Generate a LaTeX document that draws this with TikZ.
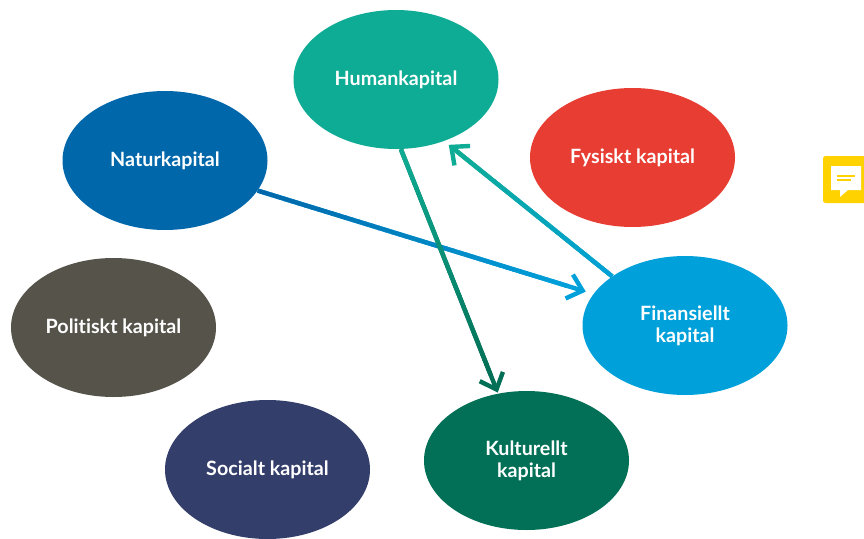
\documentclass[tikz,border=0pt]{standalone}
\usepackage{fontspec}
\setmainfont[Ligatures=CommonOff]{Lato}
\usetikzlibrary{shapes.geometric,arrows.meta,calc}
\definecolor{cHum}{RGB}{14,172,148}
\definecolor{cNat}{RGB}{0,103,170}
\definecolor{cFys}{RGB}{231,61,50}
\definecolor{cFin}{RGB}{0,160,218}
\definecolor{cPol}{RGB}{86,83,74}
\definecolor{cSoc}{RGB}{52,62,107}
\definecolor{cKul}{RGB}{2,112,86}
\definecolor{cNote}{RGB}{255,210,0}
\tikzset{
  capnode/.style={ellipse,minimum width=205pt,minimum height=139pt,inner sep=0pt,text=white,
    align=center,font=\fontsize{19.7}{22}\selectfont\bfseries},
  capfix/.style={text depth=0pt},
  link/.style={line width=4.4pt},
  linkhead/.style={link,-{Straight Barb[length=14pt,width=25pt,line width=4.4pt]}},
}
\newcommand{\gradlink}[5]{%
  \draw[linkhead,draw=#4,shorten >=#5] (#1) -- (#2);
  \foreach \i in {0,...,45}{%
    \pgfmathsetmacro{\ta}{\i/50}%
    \pgfmathsetmacro{\tb}{(\i+1.2)/50}%
    \pgfmathsetmacro{\mixv}{100-\i*2.2}%
    \draw[link,draw=#3!\mixv!#4] ($(#1)!\ta!(#2)$) -- ($(#1)!\tb!(#2)$);
  }%
}
\begin{document}
\begin{tikzpicture}[x=1pt,y=-1pt]
\useasboundingbox (0,0) rectangle (864,538);
\fill[white] (0,0) rectangle (864,538);
\node[capnode,fill=cHum] (hum) at (396,79.5) {\raisebox{-1pt}{Humankapital}};
\node[capnode,fill=cNat] (nat) at (165,160.5) {\raisebox{-1pt}{Naturkapital}};
\node[capnode,fill=cFys] (fys) at (632.5,157.5) {\raisebox{-1pt}{Fysiskt kapital}};
\node[capnode,fill=cFin] (fin) at (685,325.5) {\raisebox{-1pt}{Finansiellt}\\\raisebox{-1pt}{kapital}};
\node[capnode,fill=cPol] (pol) at (113.5,327.5) {\raisebox{-1pt}{Politiskt kapital}};
\node[capnode,fill=cSoc] (soc) at (267.5,469.5) {\raisebox{-1pt}{Socialt kapital}};
\node[capnode,fill=cKul] (kul) at (526.5,460.5) {\raisebox{-1pt}{Kulturellt}\\\raisebox{-1pt}{kapital}};
\gradlink{nat.-18.4}{fin.161.6}{cNat}{cFin}{8pt}
\gradlink{fin.146.1}{hum.-52.6}{cFin}{cHum}{6pt}
\gradlink{hum.-86.7}{kul.113.8}{cHum}{cKul}{1pt}
% note icon
\fill[cNote,rounded corners=2.5pt] (823,156) rectangle (870,203);
\fill[white] (831,166) -- (861,166) -- (861,190) -- (848,190) -- (840,197) -- (840,190) -- (831,190) -- cycle;
\fill[cNote] (837,174.5) rectangle (855,176.5);
\fill[cNote] (837,179) rectangle (851,181);
\end{tikzpicture}
\end{document}
